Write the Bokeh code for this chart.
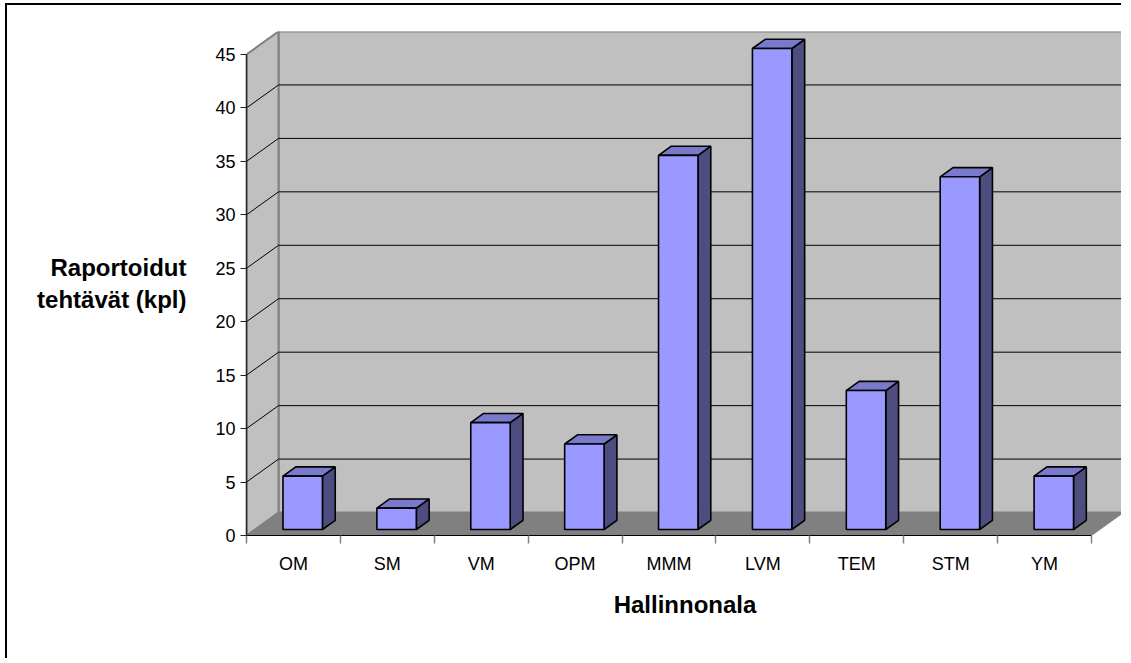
from bokeh.plotting import figure
from bokeh.models import FixedTicker, Range1d
from bokeh.embed import file_html
from bokeh.resources import INLINE

# ---- data ----
categories = ["OM", "SM", "VM", "OPM", "MMM", "LVM", "TEM", "STM", "YM"]
values = [5, 2, 10, 8, 35, 45, 13, 33, 5]
y_ticks = [0, 5, 10, 15, 20, 25, 30, 35, 40, 45]
y_max = 45
y_title = "Raportoidut\ntehtävät (kpl)"
x_title = "Hallinnonala"

# ---- 3D geometry (in data units) ----
n = len(categories)
DX = 0.341      # depth offset in x (category units)
DY = 2.15       # depth offset in y (value units)
F_FRONT = 0.26  # bar front face depth fraction
F_BACK = 0.66   # bar back face depth fraction
C_OFF = 0.51    # bar centre within category
HW = 0.21       # bar half-width

FONT = "Liberation Sans"

p = figure(width=1116, height=655, output_backend="svg", toolbar_location=None,
           x_range=Range1d(0, n + DX), y_range=Range1d(0, y_max + DY),
           min_border_left=239, min_border_right=0, min_border_top=26,
           min_border_bottom=125, background_fill_color="white",
           border_fill_color="white", outline_line_color=None)
p.styles = {"border-left": "2px solid black", "border-top": "2px solid black",
            "margin-left": "5px", "margin-top": "3px"}
p.xgrid.visible = False
p.ygrid.visible = False

# back wall
p.quad(left=DX, right=n + DX, bottom=DY, top=y_max + DY,
       fill_color="#c0c0c0", line_color="#808080", line_width=2)
# left wall
p.patch([0, DX, DX, 0], [0, DY, y_max + DY, y_max],
        fill_color="#c0c0c0", line_color="#808080", line_width=2)
# floor
p.patch([0, n, n + DX, DX], [0, 0, DY, DY],
        fill_color="#808080", line_color="#808080", line_width=1)

# gridlines
gv = [v for v in y_ticks if 0 < v < y_max]
p.segment(x0=[DX] * len(gv), y0=[v + DY for v in gv],
          x1=[n + DX] * len(gv), y1=[v + DY for v in gv],
          line_color="black", line_width=1)
p.segment(x0=[0] * len(gv), y0=gv, x1=[DX] * len(gv), y1=[v + DY for v in gv],
          line_color="black", line_width=1)

# bars
for i, v in enumerate(values):
    xlf = i + C_OFF - HW + F_FRONT * DX
    xrf = i + C_OFF + HW + F_FRONT * DX
    xlb = i + C_OFF - HW + F_BACK * DX
    xrb = i + C_OFF + HW + F_BACK * DX
    yf0 = F_FRONT * DY
    yb0 = F_BACK * DY
    # side
    p.patch([xrf, xrb, xrb, xrf], [yf0, yb0, v + yb0, v + yf0],
            fill_color="#4d4d80", line_color="black", line_width=1.6)
    # top
    p.patch([xlf, xrf, xrb, xlb], [v + yf0, v + yf0, v + yb0, v + yb0],
            fill_color="#7a7acc", line_color="black", line_width=1.6)
    # front
    p.quad(left=xlf, right=xrf, bottom=yf0, top=v + yf0,
           fill_color="#9999ff", line_color="black", line_width=1.6)

# y axis
ya = p.yaxis[0]
ya.ticker = FixedTicker(ticks=y_ticks, minor_ticks=[])
ya.bounds = (0, y_max)
ya.axis_line_color = "#222222"
ya.axis_line_width = 1.5
ya.major_tick_out = 6
ya.major_tick_in = 0
ya.major_tick_line_color = "#222222"
ya.minor_tick_out = 0
ya.minor_tick_in = 0
ya.major_label_text_font = FONT
ya.major_label_text_font_size = "18px"
ya.major_label_text_color = "black"
ya.major_label_standoff = 5
ya.axis_label = y_title
ya.axis_label_orientation = "horizontal"
ya.axis_label_text_font = FONT
ya.axis_label_text_font_style = "bold"
ya.axis_label_text_font_size = "24px"
ya.axis_label_text_color = "black"
ya.axis_label_standoff = 26

# x axis
xa = p.xaxis[0]
centers = [i + 0.5 for i in range(n)]
xa.ticker = FixedTicker(ticks=centers, minor_ticks=list(range(n + 1)))
xa.major_label_overrides = {c: lab for c, lab in zip(centers, categories)}
xa.bounds = (0, n)
xa.axis_line_color = "black"
xa.axis_line_width = 1.2
xa.major_tick_out = 0
xa.major_tick_in = 0
xa.minor_tick_out = 8
xa.minor_tick_in = 0
xa.minor_tick_line_color = "#808080"
xa.minor_tick_line_width = 1.5
xa.major_label_text_font = FONT
xa.major_label_text_font_size = "18px"
xa.major_label_text_color = "black"
xa.major_label_standoff = 10
xa.axis_label = x_title
xa.axis_label_text_font = FONT
xa.axis_label_text_font_style = "bold"
xa.axis_label_text_font_size = "24px"
xa.axis_label_text_color = "black"
xa.axis_label_standoff = 14

open("out.html", "w").write(file_html(p, INLINE))
